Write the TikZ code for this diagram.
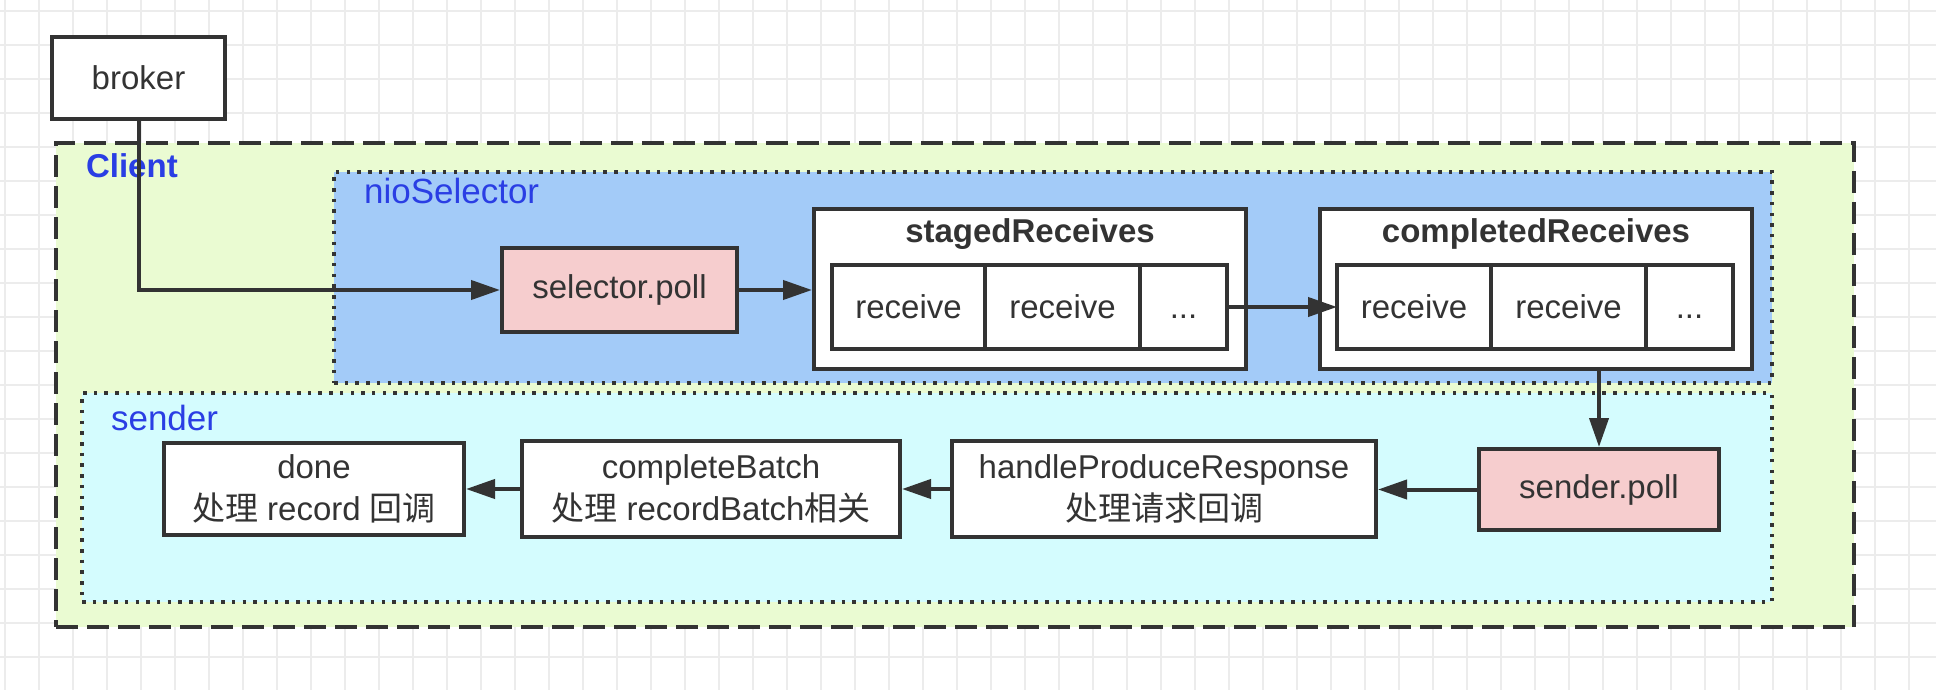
\documentclass[tikz,border=0pt]{standalone}
\usepackage{fontspec}
\setmainfont{Liberation Sans}
\newfontfamily\cjkfont{Noto Sans CJK SC}
\usetikzlibrary{positioning, arrows.meta}

\definecolor{linegray}{RGB}{51,51,51}
\definecolor{gridgray}{RGB}{236,236,236}
\definecolor{clientgreen}{RGB}{234,251,210}
\definecolor{nioblue}{RGB}{163,203,248}
\definecolor{sendercyan}{RGB}{212,252,254}
\definecolor{pollpink}{RGB}{246,205,206}
\definecolor{labelblue}{RGB}{42,62,228}

\begin{document}
\begin{tikzpicture}[
        x=0.5pt, y=-0.5pt,
        font=\fontsize{16.5}{21}\selectfont,
        every node/.style={text=linegray},
        box/.style={rectangle, draw=linegray, line width=2pt, fill=white, align=center, inner sep=0pt},
        cell/.style={box, outer sep=0pt, minimum height=42pt},
        group/.style={rectangle, draw=linegray, inner sep=0pt},
        grouplabel/.style={anchor=base west, text=labelblue, font=\fontsize{17.5}{21}\selectfont},
        arrow/.style={-{Triangle[length=14.5pt, width=9.5pt]}, draw=linegray, line width=2pt}
      ]
        \useasboundingbox (0,0) rectangle (1936,690);
        % background grid
        \foreach \gx in {5,39,...,1936} \draw[gridgray, line width=1pt] (\gx,0) -- (\gx,690);
        \foreach \gy in {11,45,...,690} \draw[gridgray, line width=1pt] (0,\gy) -- (1936,\gy);

        % Containers
        \node[group, fill=clientgreen, line width=2pt, dash pattern=on 11pt off 4.5pt, minimum width=899pt, minimum height=242pt] (client) at (955,385) {};
        \node[group, fill=nioblue, line width=1.75pt, dash pattern=on 1.75pt off 3.6pt, minimum width=719pt, minimum height=105.5pt] (nio) at (1053,277.5) {};
        \node[group, fill=sendercyan, line width=1.75pt, dash pattern=on 1.75pt off 3.6pt, minimum width=845pt, minimum height=104.5pt] (sender) at (927,497.5) {};
        \node[grouplabel, font=\fontsize{16.5}{21}\selectfont\bfseries] (clientlabel) at (79,177) {Client};
        \node[grouplabel] (niolabel) at (357,203) {nioSelector};
        \node[grouplabel] (senderlabel) at (104,430) {sender};

        % Top
        \node[box, minimum width=86.5pt, minimum height=41pt] (broker) at (138.5,78) {broker};

        % nioSelector
        \node[box, fill=pollpink, minimum width=117.5pt, minimum height=42pt] (selpoll) at (619.5,290) {selector.poll};
        \node[box, minimum width=216pt, minimum height=80pt] (staged) at (1030,289) {};
        \node[anchor=base] (stagedtitle) at (1030,242) {\textbf{stagedReceives}};
        \node[cell, anchor=west, minimum width=76.5pt] (s1) at (832,307) {receive};
        \node[cell, right=0pt of s1, minimum width=77.5pt] (s2) {receive};
        \node[cell, right=0pt of s2, minimum width=43.5pt] (s3) {\vphantom{receive}...};
        \node[box, minimum width=216pt, minimum height=80pt] (completed) at (1536,289) {};
        \node[anchor=base] (completedtitle) at (1536,242) {\textbf{completedReceives}};
        \node[cell, anchor=west, minimum width=77pt] (c1) at (1337,307) {receive};
        \node[cell, right=0pt of c1, minimum width=77.5pt] (c2) {receive};
        \node[cell, right=0pt of c2, minimum width=43.5pt] (c3) {\vphantom{receive}...};

        % sender
        \node[box, fill=pollpink, minimum width=120pt, minimum height=40.5pt] (sendpoll) at (1599,489.5) {sender.poll};
        \node[box, minimum width=212pt, minimum height=48pt] (handle) at (1164,489) {handleProduceResponse\\{\cjkfont 处理请求回调}};
        \node[box, minimum width=189pt, minimum height=48pt] (batch) at (711,489) {completeBatch\\{\cjkfont 处理} recordBatch{\cjkfont 相关}};
        \node[box, minimum width=150pt, minimum height=46pt] (done) at (314,489) {done\\{\cjkfont 处理} record {\cjkfont 回调}};

        % Arrows
        \draw[arrow] (broker.south) |- (selpoll.west);
        \draw[arrow] (selpoll.east) -- (staged.west |- selpoll.east);
        \draw[arrow] (s3.east) -- (c1.west);
        \draw[arrow] (completed.south -| sendpoll.north) -- (sendpoll.north);
        \draw[arrow] (sendpoll.west) -- (handle.east |- sendpoll.west);
        \draw[arrow] (handle.west) -- (batch.east);
        \draw[arrow] (batch.west) -- (done.east);
      \end{tikzpicture}
\end{document}
